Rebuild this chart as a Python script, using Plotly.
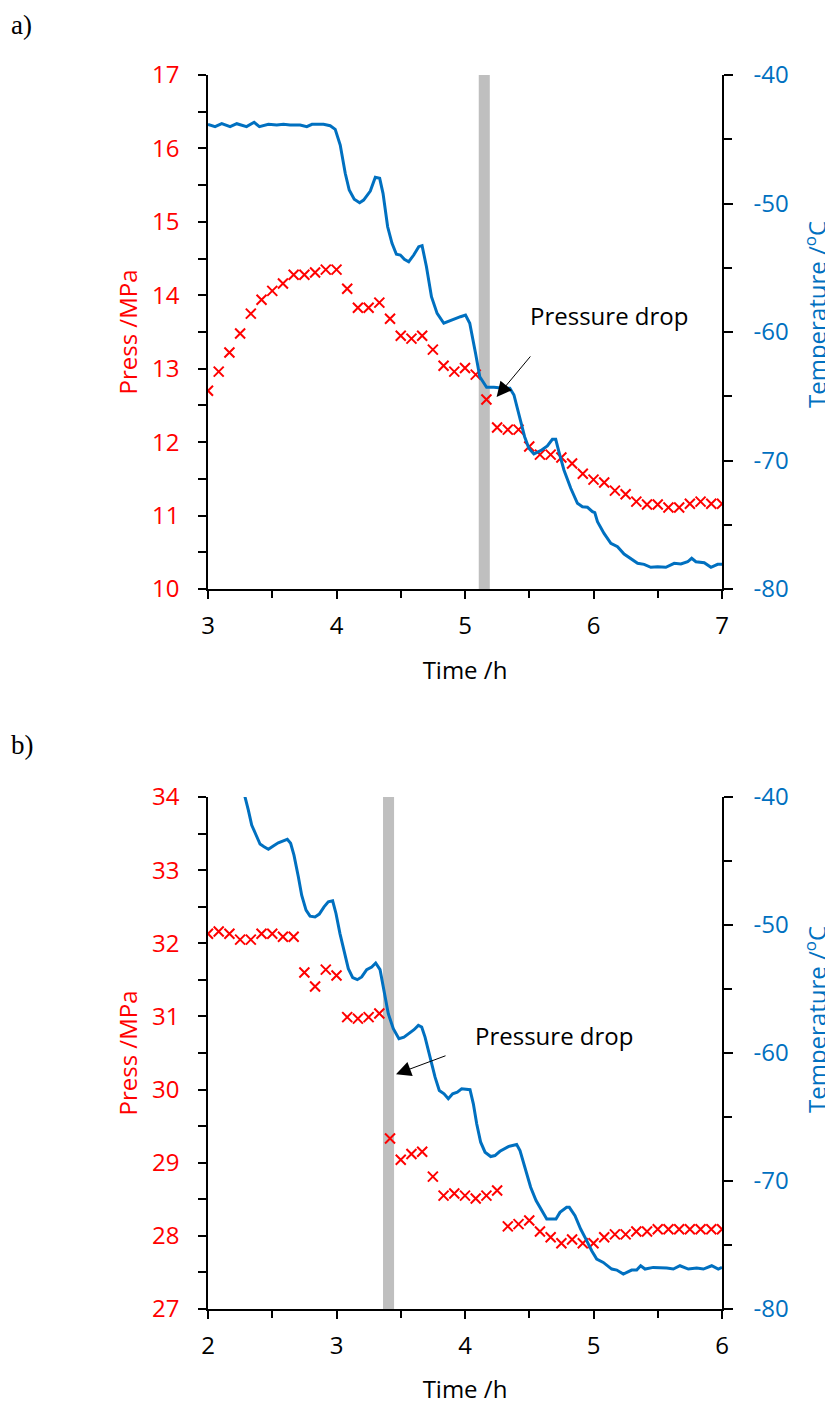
import plotly.graph_objects as go

# ---------------- data ----------------
# panel a) pressure, every 5 min from 3 h to 7 h
press_a_min = list(range(180, 421, 5))
press_a = [12.70, 12.96, 13.22, 13.48, 13.75, 13.94, 14.06, 14.16, 14.28, 14.28,
           14.31, 14.35, 14.35, 14.09, 13.83, 13.83, 13.90, 13.68, 13.45, 13.41,
           13.45, 13.26, 13.04, 12.96, 13.01, 12.92, 12.58, 12.20, 12.17, 12.17,
           11.94, 11.83, 11.83, 11.79, 11.71, 11.57, 11.49, 11.45, 11.34, 11.29,
           11.19, 11.15, 11.15, 11.11, 11.11, 11.16, 11.19, 11.16, 11.16]

temp_a_t = [3.00, 3.055, 3.107, 3.172, 3.224, 3.30, 3.359, 3.40, 3.47, 3.535, 3.587, 3.639,
            3.717, 3.769, 3.809, 3.899, 3.951, 3.99, 4.029, 4.068, 4.099, 4.138, 4.18, 4.211,
            4.263, 4.302, 4.336, 4.362, 4.398, 4.432, 4.466, 4.497, 4.528, 4.562, 4.601, 4.64,
            4.666, 4.70, 4.739, 4.783, 4.835, 4.881, 4.926, 4.965, 5.004, 5.037, 5.082, 5.115,
            5.168, 5.225, 5.303, 5.349, 5.381, 5.42, 5.464, 5.497, 5.536, 5.589, 5.641, 5.68,
            5.706, 5.731, 5.77, 5.823, 5.875, 5.914, 5.953, 5.992, 6.01, 6.031, 6.082, 6.135,
            6.187, 6.238, 6.29, 6.343, 6.394, 6.446, 6.499, 6.563, 6.628, 6.68, 6.733, 6.764,
            6.797, 6.862, 6.914, 6.966, 7.0]
temp_a = [-43.84, -44.02, -43.79, -44.02, -43.79, -44.02, -43.68, -44.02, -43.84, -43.89,
          -43.84, -43.89, -43.89, -44.02, -43.84, -43.84, -43.95, -44.23, -45.45, -47.65,
          -48.95, -49.67, -49.94, -49.73, -49.03, -47.96, -48.04, -49.21, -51.81, -53.10,
          -53.95, -54.01, -54.34, -54.53, -54.01, -53.36, -53.28, -54.92, -57.25, -58.55,
          -59.32, -59.12, -58.93, -58.81, -58.68, -59.32, -61.66, -63.48, -64.30, -64.30,
          -64.38, -64.38, -64.90, -66.33, -68.15, -69.05, -69.49, -69.24, -68.87, -68.35,
          -68.35, -69.32, -70.74, -72.16, -73.33, -73.60, -73.64, -73.98, -74.06, -74.76,
          -75.67, -76.44, -76.71, -77.28, -77.61, -78.00, -78.08, -78.31, -78.26, -78.31,
          -78.00, -78.05, -77.88, -77.61, -77.88, -77.95, -78.31, -78.08, -78.08]

# panel b) pressure, every 5 min from 2 h to 6 h
press_b_min = list(range(120, 361, 5))
press_b = [32.13, 32.16, 32.13, 32.05, 32.05, 32.13, 32.13, 32.09, 32.09, 31.60,
           31.41, 31.64, 31.56, 30.99, 30.97, 30.99, 31.04, 29.33, 29.04, 29.12,
           29.15, 28.81, 28.55, 28.58, 28.55, 28.51, 28.55, 28.62, 28.13, 28.16,
           28.21, 28.06, 27.98, 27.90, 27.95, 27.90, 27.90, 27.98, 28.02, 28.02,
           28.06, 28.06, 28.09, 28.09, 28.09, 28.09, 28.09, 28.09, 28.09]

temp_b_t = [2.27, 2.288, 2.314, 2.34, 2.374, 2.405, 2.436, 2.47, 2.508, 2.547, 2.586, 2.617,
            2.643, 2.669, 2.703, 2.729, 2.763, 2.794, 2.833, 2.866, 2.903, 2.936, 2.97, 2.996,
            3.027, 3.058, 3.092, 3.126, 3.162, 3.196, 3.235, 3.274, 3.305, 3.339, 3.37, 3.403,
            3.442, 3.486, 3.525, 3.566, 3.603, 3.637, 3.663, 3.689, 3.728, 3.767, 3.80, 3.837,
            3.87, 3.904, 3.94, 3.974, 4.039, 4.065, 4.091, 4.122, 4.156, 4.20, 4.233, 4.272,
            4.337, 4.402, 4.428, 4.467, 4.511, 4.553, 4.597, 4.636, 4.708, 4.739, 4.791, 4.812,
            4.856, 4.90, 4.947, 4.986, 5.025, 5.076, 5.142, 5.181, 5.232, 5.297, 5.336, 5.367,
            5.401, 5.465, 5.57, 5.621, 5.673, 5.738, 5.803, 5.855, 5.92, 5.971, 6.0]
temp_b = [-39.5, -40.0, -41.02, -42.19, -42.97, -43.68, -43.89, -44.09, -43.83, -43.58,
          -43.42, -43.31, -43.62, -44.54, -46.23, -47.67, -48.84, -49.31, -49.37, -49.15,
          -48.58, -48.19, -48.11, -49.10, -50.67, -52.10, -53.41, -54.11, -54.27, -54.06,
          -53.49, -53.28, -52.97, -53.49, -55.10, -56.93, -58.10, -58.88, -58.76, -58.49,
          -58.18, -57.84, -57.97, -58.76, -60.32, -61.89, -62.93, -63.19, -63.58, -63.19,
          -63.06, -62.80, -62.87, -63.97, -65.53, -66.97, -67.75, -68.09, -68.01, -67.68,
          -67.31, -67.15, -67.62, -69.05, -70.49, -71.53, -72.32, -72.97, -72.97, -72.45,
          -72.06, -72.06, -72.71, -73.75, -74.66, -75.45, -76.10, -76.36, -76.88, -76.96,
          -77.27, -76.96, -76.96, -76.62, -76.88, -76.75, -76.80, -76.88, -76.62, -76.88,
          -76.80, -76.88, -76.62, -76.88, -76.75]

# pressure-drop events (h) and band half-width
drop_a = 5.15
drop_b = 3.405
band_half = 0.043

x_range_a = [3, 7]
x_range_b = [2, 6]
p_range_a = [10, 17]
p_range_b = [27, 34]
t_range = [-80, -40]
t_ticks = [-80, -70, -60, -50, -40]
t_ticklabels = ["-80", "-70", "-60", "-50", "-40"]

# ---------------- style ----------------
PAGE_OFF = 8          # default body margin of the html page
W, H = 833 - PAGE_OFF, 1405 - PAGE_OFF
FONT = "Open Sans"
RED = "#FF0000"
BLUE = "#0070C0"
FS = 24

def px_x(p):
    return (p - PAGE_OFF) / W

def px_y(p):
    return 1 - (p - PAGE_OFF) / H

XDOM = [px_x(208), px_x(722)]
YDOM_A = [px_y(589), px_y(75)]
YDOM_B = [px_y(1309), px_y(797)]

press_a_t = [m / 60 for m in press_a_min]
press_b_t = [m / 60 for m in press_b_min]

fig = go.Figure()

marker = dict(symbol="x-thin", size=10, line=dict(width=2, color=RED), color=RED)

fig.add_trace(go.Scatter(x=press_a_t, y=press_a, mode="markers", marker=marker,
                         xaxis="x", yaxis="y", showlegend=False))
fig.add_trace(go.Scatter(x=temp_a_t, y=temp_a, mode="lines", line=dict(color=BLUE, width=3),
                         xaxis="x", yaxis="y2", showlegend=False))
fig.add_trace(go.Scatter(x=press_b_t, y=press_b, mode="markers", marker=marker,
                         xaxis="x2", yaxis="y3", showlegend=False))
fig.add_trace(go.Scatter(x=temp_b_t, y=temp_b, mode="lines", line=dict(color=BLUE, width=3),
                         xaxis="x2", yaxis="y4", showlegend=False))

def xaxis(rng, anchor):
    return dict(domain=XDOM, anchor=anchor, range=rng, automargin=False,
                tickmode="linear", tick0=rng[0], dtick=1,
                ticks="outside", ticklen=8, tickwidth=1.5, tickcolor="black",
                showline=True, linecolor="black", linewidth=1.5, showgrid=False, zeroline=False,
                minor=dict(dtick=0.5, ticks="outside", ticklen=7, tickwidth=1.5,
                           tickcolor="black", showgrid=False),
                tickfont=dict(family=FONT, size=FS, color="black"), ticklabelstandoff=6,
                title=dict(text="Time /h", font=dict(family=FONT, size=FS, color="black"),
                           standoff=23))

def pyaxis(rng, dom, anchor):
    return dict(domain=dom, anchor=anchor, range=rng, automargin=False,
                tickmode="linear", tick0=rng[0], dtick=1,
                ticks="outside", ticklen=8, tickwidth=1.5, tickcolor="black",
                showline=True, linecolor="black", linewidth=1.5, showgrid=False, zeroline=False,
                minor=dict(dtick=0.5, ticks="outside", ticklen=8, tickwidth=1.5,
                           tickcolor="black", showgrid=False),
                tickfont=dict(family=FONT, size=FS, color=RED), ticklabelstandoff=14,
                title=dict(text="Press /MPa", font=dict(family=FONT, size=FS, color=RED),
                           standoff=8))

def tyaxis(overlay, anchor):
    return dict(overlaying=overlay, anchor=anchor, side="right", range=t_range, automargin=False,
                tickmode="array", tickvals=t_ticks, ticktext=t_ticklabels,
                ticks="outside", ticklen=9, tickwidth=1.5, tickcolor="black",
                showline=True, linecolor="black", linewidth=1.5, showgrid=False, zeroline=False,
                minor=dict(tickmode="linear", tick0=-80, dtick=5, ticks="outside", ticklen=8,
                           tickwidth=1.5, tickcolor="black", showgrid=False),
                tickfont=dict(family=FONT, size=FS, color=BLUE), ticklabelstandoff=16)

fig.update_layout(
    width=W, height=H, margin=dict(l=0, r=0, t=0, b=0, autoexpand=False),
    paper_bgcolor="white", plot_bgcolor="white",
    xaxis=xaxis(x_range_a, "y"),
    yaxis=pyaxis(p_range_a, YDOM_A, "x"),
    yaxis2=tyaxis("y", "x"),
    xaxis2=xaxis(x_range_b, "y3"),
    yaxis3=pyaxis(p_range_b, YDOM_B, "x2"),
    yaxis4=tyaxis("y3", "x2"),
)

# pressure drop bands
for xr, yr, c in [("x", "y", drop_a), ("x2", "y3", drop_b)]:
    fig.add_shape(type="rect", xref=xr, yref=f"{yr} domain", x0=c - band_half, x1=c + band_half,
                  y0=0, y1=1, fillcolor="#BFBFBF", line=dict(width=0), layer="below")

# annotations
ann_font = dict(family=FONT, size=FS, color="black")
fig.add_annotation(xref="x", yref="y", x=6.12, y=13.72, text="Pressure drop", showarrow=False,
                   font=ann_font)
fig.add_annotation(xref="x", yref="y", x=5.246, y=12.615, ax=35, ay=-42, text="",
                   showarrow=True, arrowhead=2, arrowsize=3, arrowwidth=1, arrowcolor="black")
fig.add_annotation(xref="x2", yref="y3", x=4.69, y=30.74, text="Pressure drop", showarrow=False,
                   font=ann_font)
fig.add_annotation(xref="x2", yref="y3", x=3.463, y=30.21, ax=51, ay=-19, text="",
                   showarrow=True, arrowhead=2, arrowsize=3, arrowwidth=1, arrowcolor="black")

# right axis titles
for yc in [315, 1020]:
    fig.add_annotation(xref="paper", yref="paper", x=px_x(815), y=px_y(yc),
                       text="Temperature /<sup>o</sup>C", textangle=-90, showarrow=False,
                       xanchor="center", yanchor="middle",
                       font=dict(family=FONT, size=FS, color=BLUE))

# panel labels
for lab, yc in [("a)", 25), ("b)", 745)]:
    fig.add_annotation(xref="paper", yref="paper", x=px_x(9), y=px_y(yc), text=lab,
                       showarrow=False, xanchor="left", yanchor="middle",
                       font=dict(family="Liberation Serif", size=27, color="black"))

fig.write_html("out.html")
